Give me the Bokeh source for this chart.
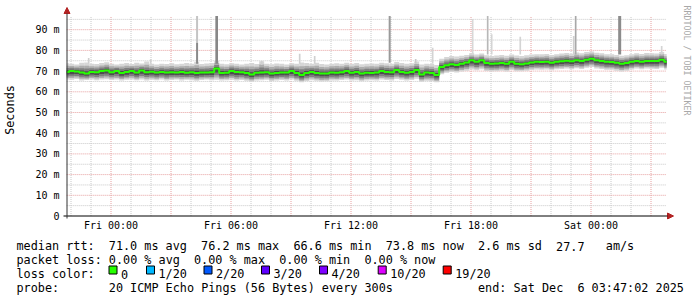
import re
import math
import pandas as pd
from bokeh.plotting import figure
from bokeh.layouts import column
from bokeh.core.properties import value
from bokeh.models import FixedTicker, DatetimeTickFormatter, Label, Arrow, NormalHead
from bokeh.embed import file_html
from bokeh.resources import INLINE

# ---------------- data ----------------
END = "2025-12-06 03:47:02"
SPAN_HOURS = 30
STEP_MIN = 15

median_ms = [
    69.6, 70.0, 69.8, 69.3, 68.8, 69.6, 69.5, 70.0, 70.3, 69.5, 70.0, 69.1, 69.6, 70.1, 69.3, 70.3,
    69.5, 69.7, 69.3, 69.6, 69.3, 69.5, 69.3, 69.6, 69.2, 69.5, 69.1, 69.3, 69.3, 69.5, 71.3,
    69.1, 69.2, 70.0, 69.6, 69.5, 69.1, 68.4, 69.2, 69.3, 69.5, 68.8, 69.1, 69.3, 69.3, 70.0,
    69.1, 68.1, 69.1, 69.6, 69.1, 68.8, 68.8, 69.3, 69.2, 69.5, 70.0, 69.2, 69.6, 68.8, 69.2,
    69.1, 69.3, 70.0, 69.6, 69.5, 70.5, 69.6, 69.2, 69.6, 70.5, 68.4, 69.3, 69.1, 68.1, 72.0,
    72.8, 73.3, 72.9, 73.6, 74.2, 75.2, 74.5, 75.2, 73.9, 73.6, 73.7, 73.9, 73.6, 74.5, 73.6,
    73.3, 73.7, 74.2, 74.5, 74.4, 74.5, 74.0, 74.5, 74.7, 75.0, 74.7, 75.2, 74.9, 75.5, 76.0,
    75.2, 74.9, 74.5, 74.4, 74.0, 73.6, 73.9, 74.5, 74.9, 74.5, 74.9, 74.9, 74.9, 75.5, 74.5,
]
smoke_hi_ms = [
    73.8, 73.5, 73.2, 74.0, 74.2, 73.6, 73.4, 73.9, 74.3, 73.5, 73.2, 73.6, 73.9, 73.4, 74.0, 73.7,
    74.6, 73.5, 73.2, 73.6, 73.4, 73.8, 73.3, 73.5, 73.9, 73.6, 74.5, 73.4, 73.7, 73.9, 75.0,
    73.6, 73.3, 73.8, 73.5, 73.2, 73.6, 73.9, 73.4, 74.8, 73.6, 73.3, 73.7, 73.5, 73.2, 73.8,
    73.6, 74.2, 73.9, 73.5, 74.0, 73.4, 73.2, 73.6, 73.8, 73.5, 74.0, 73.6, 73.9, 73.3, 73.5,
    73.7, 73.5, 74.0, 73.8, 73.6, 74.4, 73.9, 73.5, 73.8, 74.6, 73.2, 73.6, 73.4, 73.0, 76.0,
    76.8, 77.3, 77.0, 77.4, 77.8, 78.6, 78.0, 78.5, 77.6, 77.3, 77.5, 77.8, 77.4, 78.0, 77.5,
    77.3, 77.6, 78.0, 78.2, 78.1, 78.3, 77.8, 78.2, 78.5, 78.8, 78.4, 79.0, 78.6, 79.2, 79.5,
    78.9, 78.6, 78.2, 78.1, 77.8, 77.4, 77.7, 78.2, 78.6, 78.3, 78.7, 78.6, 78.5, 79.2, 78.3,
]
smoke_lo_ms = [
    66.0, 65.8, 66.2, 65.5, 65.7, 66.0, 65.6, 65.9, 66.1, 65.7, 65.9, 65.4, 65.8, 66.0, 65.6, 65.9,
    65.5, 65.8, 65.6, 65.9, 65.4, 65.7, 65.9, 65.5, 65.8, 65.6, 65.3, 65.7, 65.9, 65.6, 65.8,
    65.5, 65.6, 65.8, 65.4, 65.7, 65.3, 64.9, 65.5, 65.6, 65.8, 65.2, 65.5, 65.7, 65.4, 65.9,
    65.3, 64.6, 65.2, 65.6, 65.3, 65.0, 65.1, 65.5, 65.4, 65.7, 65.9, 65.4, 65.6, 65.1, 65.5,
    65.6, 65.4, 65.9, 65.7, 65.5, 66.2, 65.8, 65.4, 65.7, 66.3, 64.9, 65.3, 65.2, 64.6, 68.5,
    69.2, 69.6, 69.3, 69.8, 70.2, 70.8, 70.4, 70.9, 70.0, 69.8, 69.9, 70.2, 69.8, 70.5, 69.9,
    69.9, 70.2, 70.5, 70.8, 70.6, 70.8, 70.4, 70.9, 71.0, 71.2, 70.9, 71.4, 71.0, 71.6, 72.0,
    71.3, 71.0, 70.6, 70.6, 70.2, 69.8, 70.2, 70.8, 71.2, 70.9, 71.2, 71.1, 71.0, 71.6, 70.8,
]

# single-ping outliers (hours after graph start, from/to in ms)
spike_hour = [1.10, 4.20, 6.52, 6.52, 7.50, 9.75, 11.65, 12.40, 16.15, 17.45,
              18.30, 20.30, 21.05, 21.25, 22.68, 25.35, 25.45, 27.65, 29.75]
spike_base_ms = [73.5, 73.5, 83.7, 73.5, 73.5, 73.0, 73.5, 73.5, 74.0, 73.5,
                 73.5, 78.0, 78.0, 78.0, 78.0, 78.0, 78.0, 78.0, 78.0]
spike_top_ms = [76.3, 75.7, 96.6, 83.7, 96.6, 75.0, 78.4, 77.3, 96.6, 75.8,
                81.3, 95.2, 96.6, 87.8, 86.6, 87.0, 96.6, 96.6, 82.1]
spike_shade = ["#d0d0d0", "#d0d0d0", "#c4c4c4", "#8a8a8a", "#878787", "#d0d0d0", "#d0d0d0",
               "#d0d0d0", "#9a9a9a", "#c8c8c8", "#d4d4d4", "#d8d8d8", "#b8b8b8", "#d4d4d4",
               "#d4d4d4", "#d0d0d0", "#a8a8a8", "#8c8c8c", "#d4d4d4"]
spike_width_min = [5, 5, 6, 6, 8, 5, 5, 5, 6, 5, 5, 5, 5, 5, 5, 5, 5, 9, 5]

y_ticks_ms = [0, 10, 20, 30, 40, 50, 60, 70, 80, 90]
y_tick_labels = ["0", "10 m", "20 m", "30 m", "40 m", "50 m", "60 m", "70 m", "80 m", "90 m"]
x_label_ticks = ["2025-12-05 00:00", "2025-12-05 06:00", "2025-12-05 12:00",
                 "2025-12-05 18:00", "2025-12-06 00:00"]
Y_MAX = 96.6

y_title = "Seconds"
watermark = "RRDTOOL / TOBI OETIKER"
stats_line = "median rtt:  71.0 ms avg  76.2 ms max  66.6 ms min  73.8 ms now  2.6 ms sd  27.7   am/s"
loss_line = "packet loss: 0.00 % avg  0.00 % max  0.00 % min  0.00 % now"
loss_title = "loss color:"
loss_labels = ["0", "1/20", "2/20", "3/20", "4/20", "10/20", "19/20"]
loss_colors = ["#26ff00", "#00b8ff", "#0059ff", "#5e00ff", "#7e00ff", "#dd00ff", "#ff0000"]
probe_line = "probe:       20 ICMP Echo Pings (56 Bytes) every 300s"
end_line = "end: Sat Dec  6 03:47:02 2025"

# ---------------- layout / style ----------------
MONO = "DejaVu Sans Mono"
W = 697
H_MAIN, H_LEG = 236, 61
FRAME_L, FRAME_B = 62, 219          # canvas px of main frame left / bottom (top 0, right W)
MIN_PER_PX = 3.0
PX_PER_MS = 2.07
ANCHOR_T = pd.Timestamp("2025-12-04 22:00")   # first hour grid line
ANCHOR_X = 70.5
Y0_CANVAS = 215.5
CHAR_W = 7.1
LEGEND_SIZE = "11.8px"
TICK_SIZE = "10px"
GRID_GREY = "#c8c8c8"
GRID_RED = "#e6a0a0"
HEAD_COL = "#b22222"

end_t = pd.Timestamp(END)
start_t = end_t - pd.Timedelta(hours=SPAN_HOURS)
times = pd.date_range(start_t, periods=len(median_ms), freq=f"{STEP_MIN}min")

x_lo = ANCHOR_T - pd.Timedelta(minutes=(ANCHOR_X - FRAME_L) * MIN_PER_PX)
x_hi = ANCHOR_T + pd.Timedelta(minutes=(W - ANCHOR_X) * MIN_PER_PX)
y_lo = -(FRAME_B - Y0_CANVAS) / PX_PER_MS
y_hi = Y0_CANVAS / PX_PER_MS


def epoch_ms(t):
    return pd.Timestamp(t).value / 1e6


p = figure(width=W, height=H_MAIN, x_axis_type="datetime",
           x_range=(x_lo, x_hi), y_range=(y_lo, y_hi),
           output_backend="svg", toolbar_location=None,
           min_border_left=FRAME_L, min_border_right=0, min_border_top=0,
           min_border_bottom=H_MAIN - FRAME_B,
           background_fill_color="white", border_fill_color="white",
           outline_line_color=None)
p.xgrid.visible = False
p.ygrid.visible = False

# grid lines
hours = pd.date_range("2025-12-04 22:00", "2025-12-06 03:00", freq="1h")
hx_minor = [t for t in hours if t.hour % 3 != 0]
hx_major = [t for t in hours if t.hour % 3 == 0]
p.segment(x0=hx_minor, y0=[0] * len(hx_minor), x1=hx_minor, y1=[Y_MAX] * len(hx_minor),
          line_color=GRID_GREY, line_dash="1 1", line_width=1)
p.segment(x0=hx_major, y0=[0] * len(hx_major), x1=hx_major, y1=[Y_MAX] * len(hx_major),
          line_color=GRID_RED, line_dash="1 1", line_width=1)
hy_minor = [v + 5 for v in y_ticks_ms]
hy_major = y_ticks_ms[1:]
p.segment(x0=[start_t] * len(hy_minor), y0=hy_minor, x1=[end_t] * len(hy_minor), y1=hy_minor,
          line_color=GRID_GREY, line_dash="1 1", line_width=1)
p.segment(x0=[start_t] * len(hy_major), y0=hy_major, x1=[end_t] * len(hy_major), y1=hy_major,
          line_color=GRID_RED, line_dash="1 1", line_width=1)

# smoke (bars clipped to the graph span)
half = pd.Timedelta(minutes=STEP_MIN / 2)
q_left = [max(t - half, start_t) for t in times]
q_right = [min(t + half, end_t) for t in times]
layers = [(1.0, 1.0, "#d6d6d6"), (0.8, 0.7, "#adadad"), (0.6, 0.45, "#808080"), (0.35, 0.2, "#4e4e4e")]
for f_lo, f_hi, col in layers:
    top = [m + f_hi * (h - m) for m, h in zip(median_ms, smoke_hi_ms)]
    bot = [m - f_lo * (m - l) for m, l in zip(median_ms, smoke_lo_ms)]
    p.quad(left=q_left, right=q_right, top=top, bottom=bot, fill_color=col, line_color=None)

sp_x = [start_t + pd.Timedelta(hours=h) for h in spike_hour]
p.vbar(x=sp_x, width=[w * 60000 for w in spike_width_min], top=spike_top_ms,
       bottom=spike_base_ms, fill_color=spike_shade, line_color=None)

p.step(x=times, y=median_ms, mode="center", line_color=loss_colors[0], line_width=2)

# axes (labels only; lines drawn below with arrow heads)
p.xaxis.ticker = FixedTicker(ticks=[epoch_ms(t) for t in x_label_ticks], minor_ticks=[])
fmt = "%a %H:%M"
p.xaxis.formatter = DatetimeTickFormatter(
    microseconds=fmt, milliseconds=fmt, seconds=fmt, minsec=fmt, minutes=fmt,
    hourmin=fmt, hours=fmt, days=fmt, months=fmt, years=fmt, strip_leading_zeros=False)
p.yaxis.ticker = FixedTicker(ticks=y_ticks_ms, minor_ticks=[])
p.yaxis.major_label_overrides = {v: s for v, s in zip(y_ticks_ms, y_tick_labels)}
for ax in (p.xaxis, p.yaxis):
    ax.axis_line_color = None
    ax.major_tick_line_color = None
    ax.minor_tick_line_color = None
    ax.major_tick_out = 0
    ax.major_tick_in = 0
    ax.minor_tick_out = 0
    ax.minor_tick_in = 0
    ax.major_label_text_font = MONO
    ax.major_label_text_font_size = TICK_SIZE
    ax.major_label_text_color = "#000000"
p.xaxis.major_label_standoff = 0
p.yaxis.major_label_standoff = 3
p.yaxis.axis_label = y_title
p.yaxis.axis_label_text_font = MONO
p.yaxis.axis_label_text_font_size = LEGEND_SIZE
p.yaxis.axis_label_text_font_style = "normal"
p.yaxis.axis_label_text_color = "#000000"
p.yaxis.axis_label_standoff = 15


def sx(cx):
    return cx - FRAME_L


def sy(cy):
    return FRAME_B - cy


p.add_layout(Arrow(end=NormalHead(size=6, fill_color=HEAD_COL, line_color=HEAD_COL),
                   x_start=sx(63), y_start=sy(Y0_CANVAS), x_end=sx(673), y_end=sy(Y0_CANVAS),
                   start_units="screen", end_units="screen",
                   line_color="#000000", line_width=1))
p.add_layout(Arrow(end=NormalHead(size=6, fill_color=HEAD_COL, line_color=HEAD_COL),
                   x_start=sx(66.5), y_start=sy(218), x_end=sx(66.5), y_end=sy(7),
                   start_units="screen", end_units="screen",
                   line_color="#333333", line_width=1))
p.add_layout(Label(x=sx(686), y=sy(5), x_units="screen", y_units="screen",
                   text=watermark, text_font=MONO, text_font_size="8.3px",
                   text_color="#a8a8a8", angle=-math.pi / 2,
                   text_align="left", text_baseline="middle"))

# ---------------- legend block below the graph ----------------
leg = figure(width=W, height=H_LEG, x_range=(0, W), y_range=(H_MAIN + H_LEG, H_MAIN),
             output_backend="svg", toolbar_location=None,
             min_border=0, min_border_left=0, min_border_right=0,
             min_border_top=0, min_border_bottom=0,
             background_fill_color="white", border_fill_color="white",
             outline_line_color=None)
leg.axis.visible = False
leg.grid.visible = False
if "frame_align" in leg.properties():
    leg.frame_align = False
    p.frame_align = False

tx, ty, tt = [], [], []
LX = 16


def add_line(s, cx0, base):
    for m in re.finditer(r"\S+(?: \S+)*", s):
        tx.append(cx0 + m.start() * CHAR_W)
        ty.append(base)
        tt.append(m.group())


add_line(stats_line, LX, 245.5)
add_line(loss_line, LX, 259.5)
add_line(loss_title, LX, 273.5)
add_line(probe_line, LX, 287.5)
add_line(end_line, LX + 65 * CHAR_W, 287.5)

sq_left = [108.5, 146, 203.5, 261, 319, 377.7, 442.7]
for s_l, lbl in zip(sq_left, loss_labels):
    tx.append(s_l + 12)
    ty.append(273.5)
    tt.append(lbl)

leg.text(x=tx, y=ty, text=tt, text_font=value(MONO), text_font_size=value(LEGEND_SIZE),
         text_color="#000000", text_align=value("left"), text_baseline=value("alphabetic"))
leg.quad(left=sq_left, right=[v + 8 for v in sq_left], top=[265.5] * len(sq_left),
         bottom=[273.5] * len(sq_left), fill_color=loss_colors, line_color="#000000",
         line_width=1)

layout = column(p, leg, spacing=0)
open("out.html", "w").write(file_html(layout, INLINE))
